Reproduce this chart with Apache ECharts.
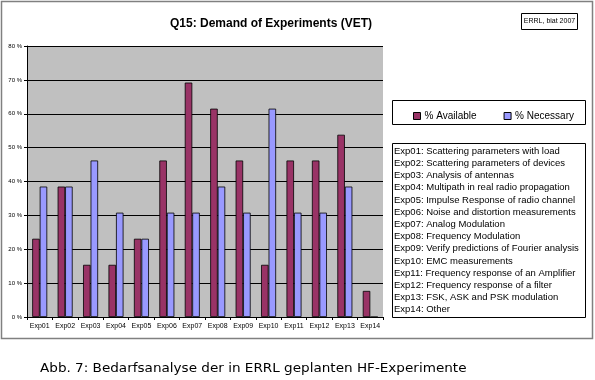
<!DOCTYPE html>
<html><head><meta charset="utf-8">
<script src="https://cdn.jsdelivr.net/npm/echarts@6/dist/echarts.min.js"></script>
<style>html,body{margin:0;padding:0;background:#fff}#c{width:595px;height:380px}</style>
</head><body><div id="c"></div>
<script>
const categories = ['Exp01','Exp02','Exp03','Exp04','Exp05','Exp06','Exp07','Exp08','Exp09','Exp10','Exp11','Exp12','Exp13','Exp14'];
const available = [23.1,38.5,15.4,15.4,23.1,46.2,69.2,61.5,46.2,15.4,46.2,46.2,53.8,7.7];
const necessary = [38.5,38.5,46.2,30.8,23.1,30.8,30.8,38.5,30.8,61.5,30.8,30.8,38.5,0];
const seriesNames = ['% Available','% Necessary'];
const titleText = 'Q15: Demand of Experiments (VET)';
const sourceText = 'ERRL, biat 2007';
const captionText = 'Abb. 7: Bedarfsanalyse der in ERRL geplanten HF-Experimente';
const descriptions = [
 'Exp01: Scattering parameters with load',
 'Exp02: Scattering parameters of devices',
 'Exp03: Analysis of antennas',
 'Exp04: Multipath in real radio propagation',
 'Exp05: Impulse Response of radio channel',
 'Exp06: Noise and distortion measurements',
 'Exp07: Analog Modulation',
 'Exp08: Frequency Modulation',
 'Exp09: Verify predictions of Fourier analysis',
 'Exp10: EMC measurements',
 'Exp11: Frequency response of an Amplifier',
 'Exp12: Frequency response of a filter',
 'Exp13: FSK, ASK and PSK modulation',
 'Exp14: Other'
];

const chart = echarts.init(document.getElementById('c'), null, {renderer:'canvas'});
const F = 'Arial, "Liberation Sans", sans-serif';
chart.setOption({
  animation:false,
  backgroundColor:'#fff',
  title:{text:titleText,left:266,textAlign:'center',top:13,
    textStyle:{fontFamily:F,fontSize:12,fontWeight:'bold',color:'#000'}},
  legend:{data:seriesNames,left:408,top:106,itemWidth:7,itemHeight:7,itemGap:27,icon:'rect',
    textStyle:{fontFamily:F,fontSize:10,color:'#000',padding:[0,0,0,-1]},
    itemStyle:{borderColor:'#000',borderWidth:1}},
  grid:{left:27,top:46,width:356,height:271,containLabel:false,show:true,backgroundColor:'#c0c0c0',borderColor:'#808080',borderWidth:0},
  xAxis:{type:'category',data:categories,
    axisLine:{lineStyle:{color:'#000',width:1}},
    axisTick:{show:true,alignWithLabel:false,length:3,lineStyle:{color:'#000'}},
    axisLabel:{fontFamily:F,fontSize:7,color:'#000',margin:6,interval:0}},
  yAxis:{type:'value',min:0,max:80,interval:10,
    axisLine:{show:true,lineStyle:{color:'#000'}},
    axisTick:{show:true,length:3,lineStyle:{color:'#000'}},
    splitLine:{lineStyle:{color:'#000',width:1}},
    axisLabel:{fontFamily:F,fontSize:6,color:'#000',margin:5,formatter:v=>v+' %'}},
  series:[
    {name:seriesNames[0],type:'bar',data:available,barGap:'0%',barCategoryGap:'41%',
      itemStyle:{color:'#993366',borderColor:'#000',borderWidth:0.8}},
    {name:seriesNames[1],type:'bar',data:necessary,barGap:'0%',barCategoryGap:'41%',
      itemStyle:{color:'#9999ff',borderColor:'#000',borderWidth:0.8}}
  ],
  graphic:[
    {type:'rect',z:-10,shape:{x:1.5,y:1.5,width:591,height:337},style:{fill:null,stroke:'#808080',lineWidth:1.5}},
    {type:'rect',z:-5,shape:{x:392.5,y:100.5,width:193,height:24},style:{fill:'#fff',stroke:'#000',lineWidth:1}},
    {type:'rect',shape:{x:521.5,y:13.5,width:56,height:16},style:{fill:'#fff',stroke:'#000',lineWidth:1}},
    {type:'text',x:549.5,y:21.5,style:{text:sourceText,fill:'#000',font:'7px '+F,align:'center',verticalAlign:'middle'}},
    {type:'rect',shape:{x:392.5,y:143.5,width:193,height:174},style:{fill:'#fff',stroke:'#000',lineWidth:1}},
    {type:'text',x:394,y:145,style:{text:descriptions.join('\n'),fill:'#000',font:'9.5px '+F,lineHeight:12.2,align:'left',verticalAlign:'top'}},
    {type:'text',x:40,y:369,scaleX:1.13,style:{text:captionText,fill:'#000',font:'12px "DejaVu Sans", sans-serif',align:'left',verticalAlign:'middle'}}
  ]
});
</script></body></html>
